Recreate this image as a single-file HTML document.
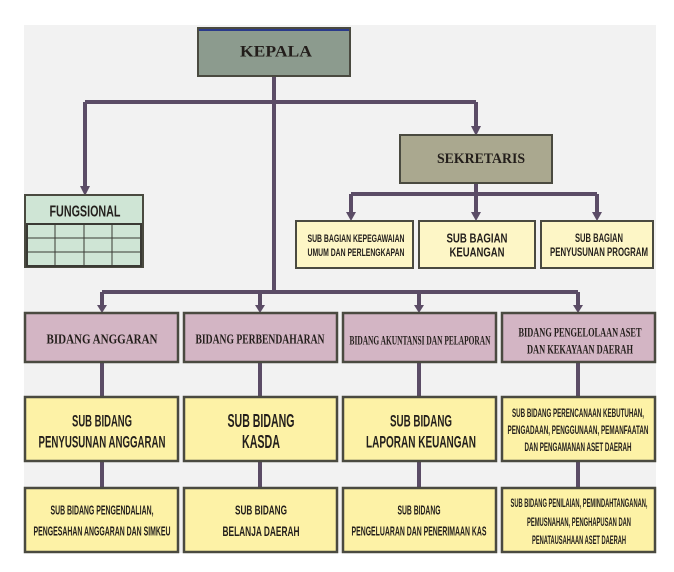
<!DOCTYPE html>
<html><head><meta charset="utf-8"><style>
html,body{margin:0;padding:0;background:#fff;}
svg{display:block;}
.s{font-family:"Liberation Serif",serif;font-weight:bold;fill:#231e1b;}
.n{font-family:"Liberation Sans",sans-serif;fill:#231f1c;font-weight:bold;}
</style></head><body>
<svg width="674" height="572" viewBox="0 0 674 572" xmlns="http://www.w3.org/2000/svg">
<rect x="24" y="25" width="632" height="528" fill="#f2f2f2"/>
<g stroke="#5b4c66" stroke-width="4" fill="none">
<path d="M274 76 V292"/>
<path d="M85 102 H476"/>
<path d="M85 102 V188"/>
<path d="M476 102 V128"/>
<path d="M476 183 V194 M351 194 H597 M351 194 V214 M476 194 V214 M597 194 V214"/>
<path d="M102 292 H578 M102 292 V306 M260 292 V306 M419 292 V306 M578 292 V306"/>
<path d="M102 362 V397 M260 362 V397 M419 362 V397 M578 362 V397"/>
<path d="M102 461 V488 M260 461 V488 M419 461 V488 M578 461 V488"/>
</g>
<g fill="#5b4c66">
<polygon points="80,186 90,186 85,196"/>
<polygon points="471,126 481,126 476,136"/>
<polygon points="346,212 356,212 351,221"/>
<polygon points="471,212 481,212 476,221"/>
<polygon points="592,212 602,212 597,221"/>
<polygon points="97,305 107,305 102,313"/>
<polygon points="255,305 265,305 260,313"/>
<polygon points="414,305 424,305 419,313"/>
<polygon points="573,305 583,305 578,313"/>
</g>
<g stroke="#4a4a40" stroke-width="2">
<rect x="198" y="28" width="152" height="48" fill="#8c9b8e"/>
<rect x="400" y="135" width="152" height="48" fill="#aaa88f"/>
<rect x="25" y="195" width="118" height="72" fill="#cfe5d5"/>
</g>
<line x1="199" y1="30" x2="349" y2="30" stroke="#2a3a8a" stroke-width="2"/>
<g stroke="#3a3a34" fill="none">
<rect x="27" y="224" width="114" height="42" stroke-width="2"/>
<path d="M27 238 H141 M27 252 H141 M55 224 V266 M84 224 V266 M112 224 V266" stroke-width="1"/>
</g>
<g stroke="#4a4a40" stroke-width="2" fill="#fdf6c6">
<rect x="296" y="221" width="117" height="47"/>
<rect x="419" y="221" width="116" height="47"/>
<rect x="541" y="221" width="112" height="47"/>
</g>
<g stroke="#4a4a40" stroke-width="2.5">
<rect x="25" y="313" width="153" height="49" fill="#d3b5c4"/>
<rect x="184" y="313" width="153" height="49" fill="#d3b5c4"/>
<rect x="343" y="313" width="153" height="49" fill="#d3b5c4"/>
<rect x="502" y="313" width="153" height="49" fill="#d3b5c4"/>
<rect x="25" y="397" width="153" height="64" fill="#fdf2a6"/>
<rect x="184" y="397" width="153" height="64" fill="#fdf2a6"/>
<rect x="343" y="397" width="153" height="64" fill="#fdf2a6"/>
<rect x="502" y="397" width="153" height="64" fill="#fdf2a6"/>
<rect x="25" y="488" width="153" height="64" fill="#fdf2a6"/>
<rect x="184" y="488" width="153" height="64" fill="#fdf2a6"/>
<rect x="343" y="488" width="153" height="64" fill="#fdf2a6"/>
<rect x="502" y="488" width="153" height="64" fill="#fdf2a6"/>
</g>
<g text-anchor="middle" dominant-baseline="central">
<text class="s" x="276" y="52" font-size="16" textLength="72" lengthAdjust="spacingAndGlyphs">KEPALA</text>
<text class="s" x="481" y="159" font-size="15" textLength="88" lengthAdjust="spacingAndGlyphs">SEKRETARIS</text>
<text class="n" x="85" y="212" font-size="16" font-weight="normal" textLength="71" lengthAdjust="spacingAndGlyphs">FUNGSIONAL</text>
<text class="n" x="356" y="239" font-size="11" textLength="97" lengthAdjust="spacingAndGlyphs">SUB BAGIAN KEPEGAWAIAN</text>
<text class="n" x="356" y="253" font-size="11" textLength="97" lengthAdjust="spacingAndGlyphs">UMUM DAN PERLENGKAPAN</text>
<text class="n" x="477" y="238" font-size="13" textLength="61" lengthAdjust="spacingAndGlyphs">SUB BAGIAN</text>
<text class="n" x="477" y="252" font-size="13" textLength="55" lengthAdjust="spacingAndGlyphs">KEUANGAN</text>
<text class="n" x="599" y="239" font-size="11.5" textLength="48" lengthAdjust="spacingAndGlyphs">SUB BAGIAN</text>
<text class="n" x="599" y="253" font-size="11.5" textLength="98" lengthAdjust="spacingAndGlyphs">PENYUSUNAN PROGRAM</text>

<text class="s" x="102" y="340" font-size="14" textLength="111" lengthAdjust="spacingAndGlyphs">BIDANG ANGGARAN</text>
<text class="s" x="260" y="340" font-size="14" textLength="129" lengthAdjust="spacingAndGlyphs">BIDANG PERBENDAHARAN</text>
<text class="s" x="420" y="340" font-size="13" textLength="141" lengthAdjust="spacingAndGlyphs">BIDANG AKUNTANSI DAN PELAPORAN</text>
<text class="s" x="580" y="332" font-size="13" textLength="123" lengthAdjust="spacingAndGlyphs">BIDANG PENGELOLAAN ASET</text>
<text class="s" x="580" y="349" font-size="13" textLength="106" lengthAdjust="spacingAndGlyphs">DAN KEKAYAAN DAERAH</text>

<text class="n" x="102" y="421" font-size="17" textLength="60" lengthAdjust="spacingAndGlyphs">SUB BIDANG</text>
<text class="n" x="102" y="442" font-size="17" textLength="127" lengthAdjust="spacingAndGlyphs">PENYUSUNAN ANGGARAN</text>
<text class="n" x="261" y="421" font-size="18" textLength="67" lengthAdjust="spacingAndGlyphs">SUB BIDANG</text>
<text class="n" x="261" y="442" font-size="18" textLength="38" lengthAdjust="spacingAndGlyphs">KASDA</text>
<text class="n" x="421" y="421" font-size="17" textLength="62" lengthAdjust="spacingAndGlyphs">SUB BIDANG</text>
<text class="n" x="421" y="442" font-size="17" textLength="110" lengthAdjust="spacingAndGlyphs">LAPORAN KEUANGAN</text>
<text class="n" x="578" y="413" font-size="12" textLength="132" lengthAdjust="spacingAndGlyphs">SUB BIDANG PERENCANAAN KEBUTUHAN,</text>
<text class="n" x="578" y="430" font-size="12" textLength="141" lengthAdjust="spacingAndGlyphs">PENGADAAN, PENGGUNAAN, PEMANFAATAN</text>
<text class="n" x="578" y="447" font-size="12" textLength="107" lengthAdjust="spacingAndGlyphs">DAN PENGAMANAN ASET DAERAH</text>

<text class="n" x="102" y="510" font-size="13" textLength="103" lengthAdjust="spacingAndGlyphs">SUB BIDANG PENGENDALIAN,</text>
<text class="n" x="102" y="531" font-size="13" textLength="137" lengthAdjust="spacingAndGlyphs">PENGESAHAN ANGGARAN DAN SIMKEU</text>
<text class="n" x="261" y="510" font-size="13" textLength="52" lengthAdjust="spacingAndGlyphs">SUB BIDANG</text>
<text class="n" x="261" y="531" font-size="14" textLength="77" lengthAdjust="spacingAndGlyphs">BELANJA DAERAH</text>
<text class="n" x="419" y="510" font-size="13" textLength="43" lengthAdjust="spacingAndGlyphs">SUB BIDANG</text>
<text class="n" x="419" y="531" font-size="13" textLength="135" lengthAdjust="spacingAndGlyphs">PENGELUARAN DAN PENERIMAAN KAS</text>
<text class="n" x="579" y="503" font-size="12" textLength="137" lengthAdjust="spacingAndGlyphs">SUB BIDANG PENILAIAN,  PEMINDAHTANGANAN,</text>
<text class="n" x="579" y="522" font-size="12" textLength="104" lengthAdjust="spacingAndGlyphs">PEMUSNAHAN, PENGHAPUSAN DAN</text>
<text class="n" x="579" y="540" font-size="12" textLength="94" lengthAdjust="spacingAndGlyphs">PENATAUSAHAAN  ASET DAERAH</text>
</g>
</svg>
</body></html>
